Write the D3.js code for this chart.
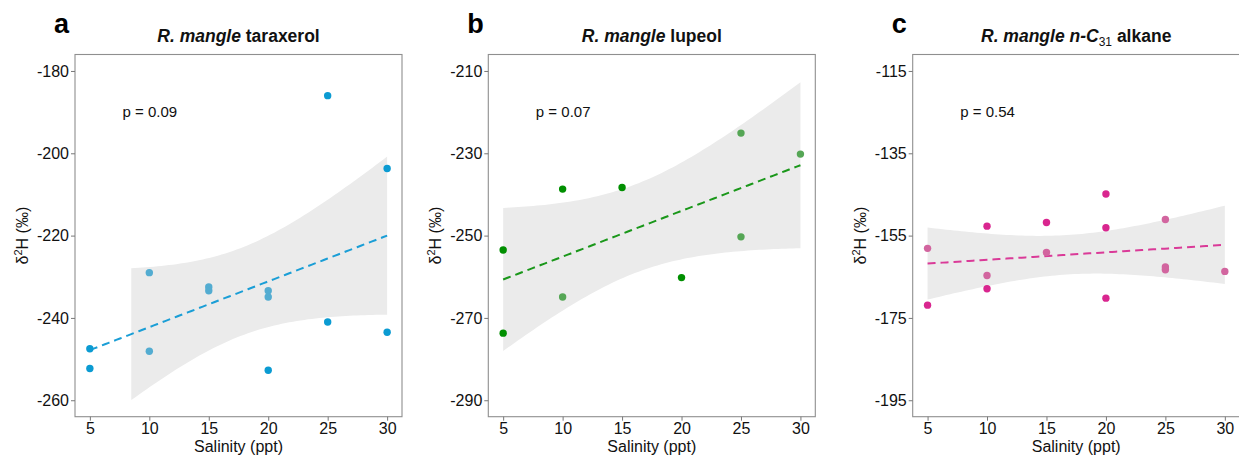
<!DOCTYPE html>
<html>
<head>
<meta charset="utf-8">
<script src="https://cdn.jsdelivr.net/npm/d3@7"></script>
<style>
  body { margin: 0; background: #fff; }
  text { font-family: "Liberation Sans", Arial, Helvetica, sans-serif; }
</style>
</head>
<body>
<svg id="fig" width="1239" height="457"></svg>
<script>
// ---- Data: leaf-wax δ2H (‰) against salinity (ppt), R. mangle ----
const salinityTaraxerol = [5, 5, 10, 10, 15, 15, 20, 20, 20, 25, 25, 30, 30];
const d2hTaraxerol      = [-247.5, -252.3, -229.0, -248.1, -232.5, -233.4, -233.4, -234.9, -252.7, -186.0, -241.0, -203.7, -243.5];
const toneTaraxerol     = [0, 0, 1, 1, 1, 1, 1, 1, 0, 0, 0, 0, 0];

const salinityLupeol = [5, 5, 10, 10, 15, 20, 25, 25, 30];
const d2hLupeol      = [-253.5, -273.7, -238.7, -264.9, -238.3, -260.2, -225.1, -250.3, -230.2];
const toneLupeol     = [0, 0, 0, 1, 0, 0, 1, 1, 1];

const salinityAlkane = [5, 5, 10, 10, 10, 15, 15, 20, 20, 20, 25, 25, 25, 30];
const d2hAlkane      = [-158.1, -171.9, -152.7, -164.7, -167.9, -151.8, -159.1, -144.9, -153.1, -170.2, -151.1, -162.6, -163.3, -163.7];
const toneAlkane     = [1, 0, 0, 1, 0, 0, 1, 0, 0, 0, 1, 1, 1, 1];

const panelLetters = ["a", "b", "c"];
const pLabels      = ["p = 0.09", "p = 0.07", "p = 0.54"];
const yLimits      = [[-260, -180], [-290, -210], [-195, -115]];
const xTicks       = [5, 10, 15, 20, 25, 30];
const yTicksTaraxerol = [-260, -240, -220, -200, -180];
const yTicksLupeol    = [-290, -270, -250, -230, -210];
const yTicksAlkane    = [-195, -175, -155, -135, -115];

// ---- Styling / layout ----
const palettes = [
  { dark: "#0b9bd2", light: "#53acd1", line: "#1a9ed6" },
  { dark: "#018f01", light: "#55a655", line: "#1a971a" },
  { dark: "#d9268f", light: "#d2659f", line: "#da3a98" }
];
const panelLefts = [75, 488.3, 912.7];
const plotW = 327, plotTop = 54.5, plotBottom = 416.7;

const panels = [
  { x: salinityTaraxerol, y: d2hTaraxerol, tone: toneTaraxerol, yTicks: yTicksTaraxerol,
    title: [{ t: "R. mangle", it: true }, { t: " taraxerol" }] },
  { x: salinityLupeol, y: d2hLupeol, tone: toneLupeol, yTicks: yTicksLupeol,
    title: [{ t: "R. mangle", it: true }, { t: " lupeol" }] },
  { x: salinityAlkane, y: d2hAlkane, tone: toneAlkane, yTicks: yTicksAlkane,
    title: [{ t: "R. mangle n-C", it: true }, { t: "31", sub: true }, { t: " alkane", after: true }] }
];

// two-sided 95% Student-t quantiles by residual degrees of freedom
const t975 = { 5: 2.571, 6: 2.447, 7: 2.365, 8: 2.306, 9: 2.262, 10: 2.228, 11: 2.201, 12: 2.179, 13: 2.160 };

function linearFit(xs, ys) {
  const n = xs.length;
  const mx = d3.mean(xs), my = d3.mean(ys);
  let sxx = 0, sxy = 0;
  xs.forEach((x, i) => { sxx += (x - mx) ** 2; sxy += (x - mx) * (ys[i] - my); });
  const slope = sxy / sxx, icpt = my - slope * mx;
  let sse = 0;
  xs.forEach((x, i) => { sse += (ys[i] - (icpt + slope * x)) ** 2; });
  const s = Math.sqrt(sse / (n - 2));
  const t = t975[n - 2];
  const [x0, x1] = d3.extent(xs);
  return d3.range(80).map(k => {
    const x = x0 + (x1 - x0) * k / 79;
    const fit = icpt + slope * x;
    const se = s * Math.sqrt(1 / n + (x - mx) ** 2 / sxx);
    return { x, fit, lo: fit - t * se, hi: fit + t * se };
  });
}

const svg = d3.select("#fig");
const plainNumber = d => String(d);

panels.forEach((p, idx) => {
  const left = panelLefts[idx], right = left + plotW;
  const [lo, hi] = yLimits[idx];
  const ePad = (hi - lo) * 0.05;
  const x = d3.scaleLinear().domain([3.75, 31.25]).range([left, right]);
  const y = d3.scaleLinear().domain([lo - ePad, hi + ePad]).range([plotBottom, plotTop]);
  const pal = palettes[idx];
  const g = svg.append("g");

  // confidence band (rows beyond the axis limits are dropped) and fitted line
  const fitPts = linearFit(p.x, p.y);
  const bandPts = fitPts.filter(d => d.lo >= lo && d.hi <= hi);
  g.append("path")
    .datum(bandPts)
    .attr("fill", "#ebebeb")
    .attr("d", d3.area().x(d => x(d.x)).y0(d => y(d.lo)).y1(d => y(d.hi)));
  g.append("path")
    .datum(fitPts)
    .attr("fill", "none")
    .attr("stroke", pal.line)
    .attr("stroke-width", 2)
    .attr("stroke-dasharray", "8,5")
    .attr("d", d3.line().x(d => x(d.x)).y(d => y(d.fit)));

  // observations
  g.selectAll("circle.obs")
    .data(p.x.map((v, i) => ({ sx: v, d: p.y[i], tone: p.tone[i] })))
    .join("circle")
    .attr("class", "obs")
    .attr("cx", d => x(d.sx))
    .attr("cy", d => y(d.d))
    .attr("r", 3.7)
    .attr("fill", d => d.tone ? pal.light : pal.dark);

  // panel border
  g.append("rect")
    .attr("x", left).attr("y", plotTop)
    .attr("width", plotW).attr("height", plotBottom - plotTop)
    .attr("fill", "none").attr("stroke", "#8f8f8f").attr("stroke-width", 1.1);

  // axes
  const ax = g.append("g")
    .attr("transform", `translate(0,${plotBottom})`)
    .call(d3.axisBottom(x).tickValues(xTicks).tickFormat(plainNumber).tickSize(4).tickPadding(1.5));
  const ay = g.append("g")
    .attr("transform", `translate(${left},0)`)
    .call(d3.axisLeft(y).tickValues(p.yTicks).tickFormat(plainNumber).tickSize(4).tickPadding(2));
  [ax, ay].forEach(a => {
    a.select(".domain").remove();
    a.selectAll(".tick line").attr("stroke", "#777");
    a.selectAll(".tick text").attr("fill", "#111").style("font-size", "16px")
      .style("font-family", "'Liberation Sans', Arial, sans-serif");
  });

  // axis titles
  g.append("text")
    .attr("x", (left + right) / 2).attr("y", 451.5)
    .attr("text-anchor", "middle").attr("fill", "#111")
    .style("font-size", "16px")
    .text("Salinity (ppt)");

  const yt = g.append("text")
    .attr("transform", `translate(${left - 47},${(plotTop + plotBottom) / 2}) rotate(-90)`)
    .attr("text-anchor", "middle").attr("fill", "#111")
    .style("font-size", "16px");
  yt.append("tspan").text("δ");
  yt.append("tspan").attr("dy", -6).style("font-size", "11px").text("2");
  yt.append("tspan").attr("dy", 6).text("H (‰)");

  // p-value annotation
  g.append("text")
    .attr("x", x(7.75)).attr("y", y(hi - 10)).attr("dy", "0.35em")
    .attr("fill", "#111").style("font-size", "15px")
    .text(pLabels[idx]);

  // title
  const tt = g.append("text")
    .attr("x", (left + right) / 2).attr("y", 41.5)
    .attr("text-anchor", "middle").attr("fill", "#111")
    .style("font-size", "17.5px").style("font-weight", "bold");
  p.title.forEach(seg => {
    const ts = tt.append("tspan").text(seg.t);
    if (seg.it) ts.style("font-style", "italic");
    if (seg.sub) ts.attr("dy", 4).style("font-size", "12px").style("font-weight", "normal");
    if (seg.after) ts.attr("dy", -4);
  });

  // panel letter
  g.append("text")
    .attr("x", left - 21).attr("y", 32.5)
    .attr("fill", "#000")
    .style("font-size", "27px").style("font-weight", "bold")
    .text(panelLetters[idx]);
});
</script>
</body>
</html>
